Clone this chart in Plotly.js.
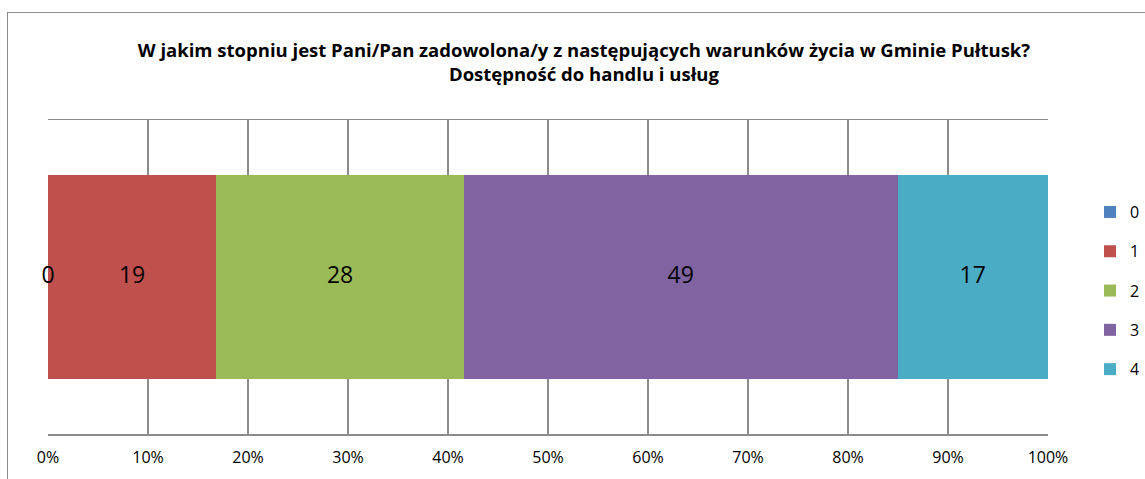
<!DOCTYPE html>
<html>
<head>
<meta charset="utf-8">
<script src="https://cdn.plot.ly/plotly-3.0.1.min.js"></script>
<style>
html,body{margin:0;padding:0;background:#fff;}
#frame{position:absolute;left:7px;top:12px;width:1200px;height:600px;border-left:1px solid #8c8c8c;border-top:1px solid #8c8c8c;pointer-events:none;z-index:5;}
#chart{position:absolute;left:0;top:0;width:1145px;height:479px;}
</style>
</head>
<body>
<div id="chart"></div>
<div id="frame"></div>
<script>
var seriesNames = ["0", "1", "2", "3", "4"];
var seriesValues = [0, 19, 28, 49, 17];
var seriesColors = ["#4F81BD", "#C0504D", "#9BBB59", "#8064A2", "#4BACC6"];
var category = ["Dostępność do handlu i usług"];
var tickValues = [0, 10, 20, 30, 40, 50, 60, 70, 80, 90, 100];
var tickLabels = ["0%", "10%", "20%", "30%", "40%", "50%", "60%", "70%", "80%", "90%", "100%"];
var titleText = "W jakim stopniu jest Pani/Pan zadowolona/y z następujących warunków życia w Gminie Pułtusk?<br>Dostępność do handlu i usług";

var total = seriesValues.reduce(function(a, b){ return a + b; }, 0);
var traces = [];
seriesNames.forEach(function(name, i){
  traces.push({
    type: "bar",
    orientation: "h",
    name: name,
    x: [seriesValues[i]],
    y: category,
    marker: {color: seriesColors[i], line: {width: 0}},
    legendgroup: "g" + i,
    hoverinfo: "name+x"
  });
});
// data labels at the centre of each segment (computed from the values)
var labX = [], labY = [], labT = [];
var cum = 0;
seriesValues.forEach(function(v){
  var p = v / total * 100;
  labX.push(cum + p / 2);
  labY.push(category[0]);
  labT.push(String(v));
  cum += p;
});
traces.push({
  type: "scatter",
  mode: "text",
  x: labX,
  y: labY,
  text: labT,
  textposition: "middle center",
  textfont: {family: "Open Sans, sans-serif", size: 23, color: "#000"},
  showlegend: false,
  hoverinfo: "skip",
  cliponaxis: false
});

var layout = {
  width: 1145,
  height: 479,
  margin: {l: 48, r: 97, t: 120, b: 45, autoexpand: false},
  paper_bgcolor: "#fff",
  plot_bgcolor: "#fff",
  barmode: "stack",
  barnorm: "percent",
  bargap: 0.353,
  showlegend: true,
  title: {
    text: titleText,
    font: {family: "Open Sans, sans-serif", size: 18.5, color: "#000", weight: "bold"},
    x: 0.51,
    xanchor: "center",
    xref: "container",
    y: 0.881,
    yanchor: "middle",
    yref: "container"
  },
  xaxis: {
    range: [0, 100],
    tickvals: tickValues,
    ticktext: tickLabels,
    showgrid: true,
    gridcolor: "#8c8c8c",
    gridwidth: 1.5,
    showline: true,
    linecolor: "#8c8c8c",
    linewidth: 1.5,
    mirror: true,
    zeroline: false,
    ticks: "outside",
    ticklen: 8,
    tickcolor: "rgba(0,0,0,0)",
    tickfont: {family: "Open Sans, sans-serif", size: 16, color: "#000"},
    fixedrange: true
  },
  yaxis: {
    showticklabels: false,
    showgrid: false,
    showline: false,
    zeroline: false,
    ticks: "",
    fixedrange: true
  },
  legend: {
    x: 1.042,
    xanchor: "left",
    y: 0.761,
    yanchor: "top",
    traceorder: "grouped",
    tracegroupgap: 15.5,
    font: {family: "Open Sans, sans-serif", size: 16, color: "#000"},
    itemwidth: 30,
    bgcolor: "rgba(0,0,0,0)"
  }
};

Plotly.newPlot("chart", traces, layout, {displayModeBar: false, staticPlot: true});
</script>
</body>
</html>
